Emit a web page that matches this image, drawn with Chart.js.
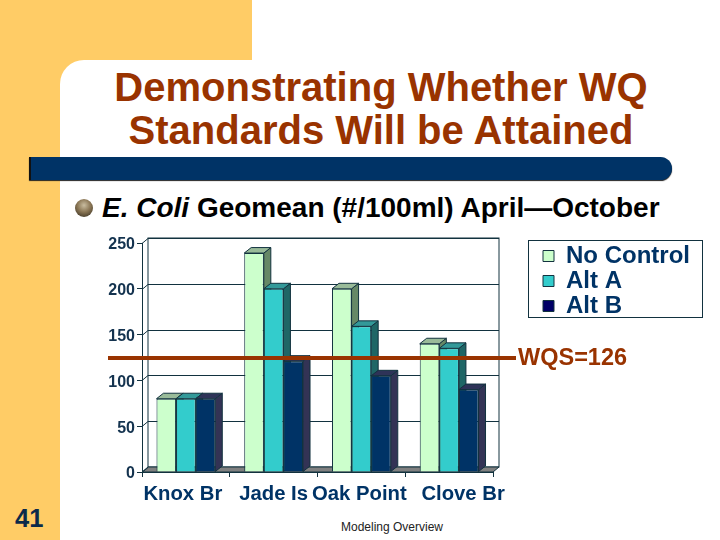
<!DOCTYPE html>
<html>
<head>
<meta charset="utf-8">
<script src="https://cdn.jsdelivr.net/npm/chart.js@4"></script>
<style>
html,body{margin:0;padding:0;background:#fff;width:720px;height:540px;overflow:hidden}
#slide{position:relative;width:720px;height:540px;overflow:hidden;font-family:"Liberation Sans",Arial,sans-serif}
.abs{position:absolute;white-space:nowrap}
#orangeTop{left:0;top:0;width:252px;height:120px;background:#FFCC66}
#orangeLeft{left:0;top:0;width:60px;height:540px;background:#FFCC66}
#whiteCard{left:60px;top:60px;width:660px;height:480px;background:#fff;border-top-left-radius:24px}
#rule{left:29px;top:157px;width:641px;height:23px;background:#003366;border-left:2px solid #111;border-radius:0 12px 12px 0;box-shadow:0 1px 1px #222}
#bullet{left:75px;top:199px;width:18px;height:18px;border-radius:50%;background:radial-gradient(circle at 50% 35%,#c9bda0 0,#8a7655 45%,#2b2418 100%)}
#title{left:81px;width:600px;top:66px;text-align:center;color:#993300;font-weight:bold;font-size:40px;line-height:43px}
#sub{left:102px;top:192px;color:#000;font-weight:bold;font-size:28px;line-height:32px}
#page{left:15px;top:503px;color:#0b2a4a;font-weight:bold;font-size:25.5px;line-height:30px}
#foot{left:292px;width:200px;top:520px;text-align:center;color:#222;font-size:12px;line-height:14px}
canvas{position:absolute;left:0;top:0}
</style>
</head>
<body>
<div id="slide">
  <div class="abs" id="orangeTop"></div>
  <div class="abs" id="orangeLeft"></div>
  <div class="abs" id="whiteCard"></div>
  <div class="abs" id="title">Demonstrating Whether WQ<br>Standards Will be Attained</div>
  <div class="abs" id="rule"></div>
  <div class="abs" id="bullet"></div>
  <div class="abs" id="sub"><i>E. Coli</i> Geomean (#/100ml) April—October</div>
  <div class="abs" id="page">41</div>
  <div class="abs" id="foot">Modeling Overview</div>
  <canvas id="c" width="720" height="540"></canvas>
</div>
<script>
const categories = ['Knox Br', 'Jade Is', 'Oak Point', 'Clove Br'];
const noControl = [80, 239, 200, 140];
const altA = [80, 200, 159, 135];
const altB = [80, 121, 105, 90];
const yTicks = [0, 50, 100, 150, 200, 250];
const wqsDrawnLevel = 124.5;
const wqsLabel = 'WQS=126';
const labelNudge = [-3, 0, -2, 14];
const legendMarkers = ['#CCFFCC', '#33CCCC', '#000066'];

const DEPTH_X = 6, DEPTH_Y = 5, BAR_DX = 7, BAR_DY = 5.5, Y_LABEL_DROP = 2;
const INK = '#12323f', NAVY = '#003366', BROWN = '#993300';
const faces = [
  {top:'#99BB99', side:'#668866'},
  {top:'#339999', side:'#1F6666'},
  {top:'#2E3358', side:'#333355'}
];

function poly(ctx, pts, fill, stroke) {
  ctx.beginPath();
  pts.forEach((p, i) => i ? ctx.lineTo(p[0], p[1]) : ctx.moveTo(p[0], p[1]));
  ctx.closePath();
  if (fill) { ctx.fillStyle = fill; ctx.fill(); }
  if (stroke) { ctx.strokeStyle = stroke; ctx.lineWidth = 1; ctx.stroke(); }
}

const slide3d = {
  id: 'slide3d',
  afterLayout(chart) {
    const l = chart.legend;
    l.left = 542; l.right = 702; l.top = 243; l.bottom = 360;
    l.width = 160; l.height = 117;
  },
  beforeDraw(chart) {
    const xItems = chart.scales.x.getLabelItems(chart.chartArea);
    if (chart.$xNudged !== xItems) {
      xItems.forEach((it, i) => { it.options.translation[0] += labelNudge[i]; });
      chart.$xNudged = xItems;
    }
    const yItems = chart.scales.y.getLabelItems(chart.chartArea);
    if (chart.$yNudged !== yItems) {
      yItems.forEach(it => { it.options.translation[1] += Y_LABEL_DROP; });
      chart.$yNudged = yItems;
    }
  },
  beforeDatasetsDraw(chart) {
    const {ctx, chartArea: a, scales: {y}} = chart;
    ctx.save();
    ctx.strokeStyle = INK; ctx.lineWidth = 1;
    ctx.strokeRect(a.left + DEPTH_X, a.top - DEPTH_Y, a.right - a.left, a.bottom - a.top);
    poly(ctx, [[a.left, a.bottom], [a.right, a.bottom], [a.right + DEPTH_X, a.bottom - DEPTH_Y], [a.left + DEPTH_X, a.bottom - DEPTH_Y]], '#808080', INK);
    yTicks.forEach(v => {
      const p = Math.round(y.getPixelForValue(v)) + 0.5;
      ctx.beginPath();
      ctx.moveTo(a.left, p);
      ctx.lineTo(a.left + DEPTH_X, p - DEPTH_Y);
      if (v > 0) ctx.lineTo(a.right + DEPTH_X, p - DEPTH_Y);
      ctx.stroke();
    });
    ctx.restore();
  },
  beforeDatasetDraw() { return false; },
  afterDatasetsDraw(chart) {
    const {ctx, scales: {y}} = chart;
    chart.data.datasets.forEach((ds, i) => {
      const meta = chart.getDatasetMeta(i);
      meta.data.forEach(bar => {
        const l = bar.x - bar.width / 2, r = bar.x + bar.width / 2, t = bar.y, b = bar.base;
        poly(ctx, [[r, t], [r + BAR_DX, t - BAR_DY], [r + BAR_DX, b - BAR_DY], [r, b]], faces[i].side, INK);
        poly(ctx, [[l, t], [l + BAR_DX, t - BAR_DY], [r + BAR_DX, t - BAR_DY], [r, t]], faces[i].top, INK);
      });
      meta.controller.draw();
    });
    const wy = y.getPixelForValue(wqsDrawnLevel);
    ctx.save();
    ctx.strokeStyle = BROWN; ctx.lineWidth = 4;
    ctx.beginPath(); ctx.moveTo(108, wy); ctx.lineTo(516, wy); ctx.stroke();
    ctx.fillStyle = BROWN; ctx.font = 'bold 23.5px "Liberation Sans"';
    ctx.textAlign = 'left'; ctx.textBaseline = 'middle';
    ctx.fillText(wqsLabel, 518, wy + 1);
    ctx.restore();
  },
  afterDraw(chart) {
    const {ctx} = chart;
    ctx.save();
    ctx.strokeStyle = '#12323f'; ctx.lineWidth = 1;
    ctx.strokeRect(528.5, 240.5, 174, 77);
    ctx.restore();
  }
};

new Chart(document.getElementById('c'), {
  type: 'bar',
  data: {
    labels: categories,
    datasets: [
      {label: 'No Control', data: noControl, backgroundColor: '#CCFFCC', borderColor: INK, borderWidth: 1},
      {label: 'Alt A', data: altA, backgroundColor: '#33CCCC', borderColor: INK, borderWidth: 1},
      {label: 'Alt B', data: altB, backgroundColor: NAVY, borderColor: INK, borderWidth: 1}
    ]
  },
  plugins: [slide3d],
  options: {
    responsive: false,
    animation: false,
    devicePixelRatio: 1,
    layout: {padding: {left: 0, top: 243, right: 227, bottom: 0}},
    datasets: {bar: {barPercentage: 1, categoryPercentage: 0.67}},
    plugins: {
      title: {display: false},
      tooltip: {enabled: false},
      legend: {
        display: true,
        position: 'chartArea',
        align: 'start',
        labels: {
          boxWidth: 11, boxHeight: 11, padding: 1,
          color: NAVY,
          font: {family: '"Liberation Sans"', size: 24, weight: 'bold', lineHeight: 1},
          generateLabels(c) {
            return Chart.defaults.plugins.legend.labels.generateLabels(c).map((it, i) => {
              it.fillStyle = legendMarkers[i];
              return it;
            });
          }
        }
      }
    },
    scales: {
      x: {
        afterFit(s) { s.height = 68; },
        grid: {display: true, offset: true, drawOnChartArea: false, drawTicks: true, tickLength: 5, color: INK},
        border: {display: true, color: INK},
        ticks: {color: NAVY, padding: 5, maxRotation: 0, autoSkip: false,
          font: {family: '"Liberation Sans"', size: 20.3, weight: 'bold'}}
      },
      y: {
        min: 0, max: 250,
        afterFit(s) { s.width = 142; },
        afterBuildTicks(s) { s.ticks = yTicks.map(v => ({value: v})); },
        grid: {display: true, drawOnChartArea: false, drawTicks: true, tickLength: 5, color: INK},
        border: {display: true, color: INK},
        ticks: {color: '#14334f', padding: 2, font: {family: '"Liberation Sans"', size: 16, weight: 'bold'}}
      }
    }
  }
});
</script>
</body>
</html>
